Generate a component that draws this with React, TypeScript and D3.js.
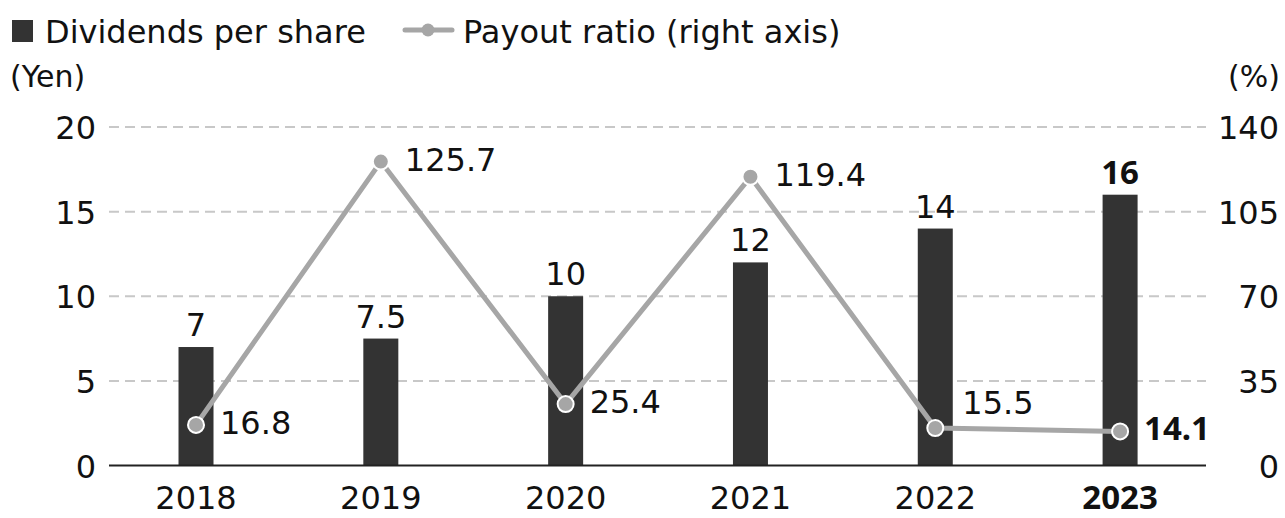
import React from "react";
import * as d3 from "d3";

const years = ["2018", "2019", "2020", "2021", "2022", "2023"];
const dividends = [7, 7.5, 10, 12, 14, 16];
const dividendLabels = ["7", "7.5", "10", "12", "14", "16"];
const payout = [16.8, 125.7, 25.4, 119.4, 15.5, 14.1];
const payoutLabels = ["16.8", "125.7", "25.4", "119.4", "15.5", "14.1"];
const leftTicks = [0, 5, 10, 15, 20];
const rightTicks = [0, 35, 70, 105, 140];
const highlightYear = "2023";
const payoutLabelAbove = ["2022"];

const W = 1285;
const H = 518;
const FONT = "'DejaVu Sans', 'Noto Sans', sans-serif";
const BOLD_FONT = "'Noto Sans', 'DejaVu Sans', sans-serif";
const BAR = "#333333";
const LINE = "#a6a6a6";
const GRID = "#c8c8c8";

export default function App() {
  const x = d3.scaleBand<string>().domain(years).range([103.6, 1212.5]).paddingInner(0).paddingOuter(0);
  const yL = d3.scaleLinear().domain([0, 20]).range([465.5, 127]);
  const yR = d3.scaleLinear().domain([0, 140]).range([465.5, 127]);
  const barW = 35;
  const cx = (y: string) => (x(y) as number) + x.bandwidth() / 2;
  const line = d3
    .line<number>()
    .x((_, i) => cx(years[i]))
    .y((d) => yR(d));
  const hl = (yr: string) =>
    yr === highlightYear ? { fontFamily: BOLD_FONT, fontWeight: 700, fontSize: 33 } : { fontSize: 32 };

  return (
    <svg
      width={W}
      height={H}
      style={{ position: "absolute", left: 0, top: 0, background: "#fff" }}
      fontFamily={FONT}
    >
      {/* legend */}
      <rect x={12} y={20} width={21} height={22} fill={BAR} />
      <text x={45} y={43} fontSize={32} fill="#111">Dividends per share</text>
      <line x1={405} x2={452} y1={30} y2={30} stroke={LINE} strokeWidth={5} strokeLinecap="round" />
      <circle cx={428} cy={30} r={6.5} fill={LINE} />
      <text x={463} y={43} fontSize={32} fill="#111">Payout ratio (right axis)</text>

      {/* axis titles */}
      <text x={10} y={87} fontSize={30} fill="#111">(Yen)</text>
      <text x={1280} y={87} fontSize={30} fill="#111" textAnchor="end">(%)</text>

      {/* gridlines */}
      {leftTicks.filter((t) => t > 0).map((t) => (
        <line key={t} x1={109} x2={1206} y1={yL(t)} y2={yL(t)} stroke={GRID} strokeWidth={2} strokeDasharray="10,6" />
      ))}

      {/* left ticks */}
      {leftTicks.map((t) => (
        <text key={t} x={96} y={yL(t) + 12} fontSize={32} fill="#111" textAnchor="end">{t}</text>
      ))}
      {/* right ticks */}
      {rightTicks.map((t) => (
        <text key={t} x={1279} y={yR(t) + 12} fontSize={32} fill="#111" textAnchor="end">{t}</text>
      ))}

      {/* bars */}
      {years.map((yr, i) => (
        <rect key={yr} x={cx(yr) - barW / 2} y={yL(dividends[i])} width={barW} height={yL(0) - yL(dividends[i])} fill={BAR} />
      ))}
      {/* bar labels */}
      {years.map((yr, i) => (
        <text key={yr} x={cx(yr)} y={yL(dividends[i]) - 11} textAnchor="middle" fill="#111" {...hl(yr)}>
          {dividendLabels[i]}
        </text>
      ))}

      {/* axis line */}
      <line x1={109} x2={1206} y1={yL(0)} y2={yL(0)} stroke="#222" strokeWidth={2} />

      {/* payout line */}
      <path d={line(payout) || ""} fill="none" stroke={LINE} strokeWidth={5} strokeLinejoin="round" />
      {payout.map((p, i) => (
        <circle key={i} cx={cx(years[i])} cy={yR(p)} r={8} fill={LINE} stroke="#fff" strokeWidth={2} />
      ))}
      {payout.map((p, i) => {
        const above = payoutLabelAbove.includes(years[i]);
        return (
          <text
            key={i}
            x={cx(years[i]) + (above ? 27 : 24)}
            y={yR(p) + (above ? -14 : 9)}
            fill="#111"
            {...hl(years[i])}
          >
            {payoutLabels[i]}
          </text>
        );
      })}

      {/* x labels */}
      {years.map((yr) => (
        <text key={yr} x={cx(yr)} y={509} textAnchor="middle" fill="#111" {...hl(yr)}>
          {yr}
        </text>
      ))}
    </svg>
  );
}
